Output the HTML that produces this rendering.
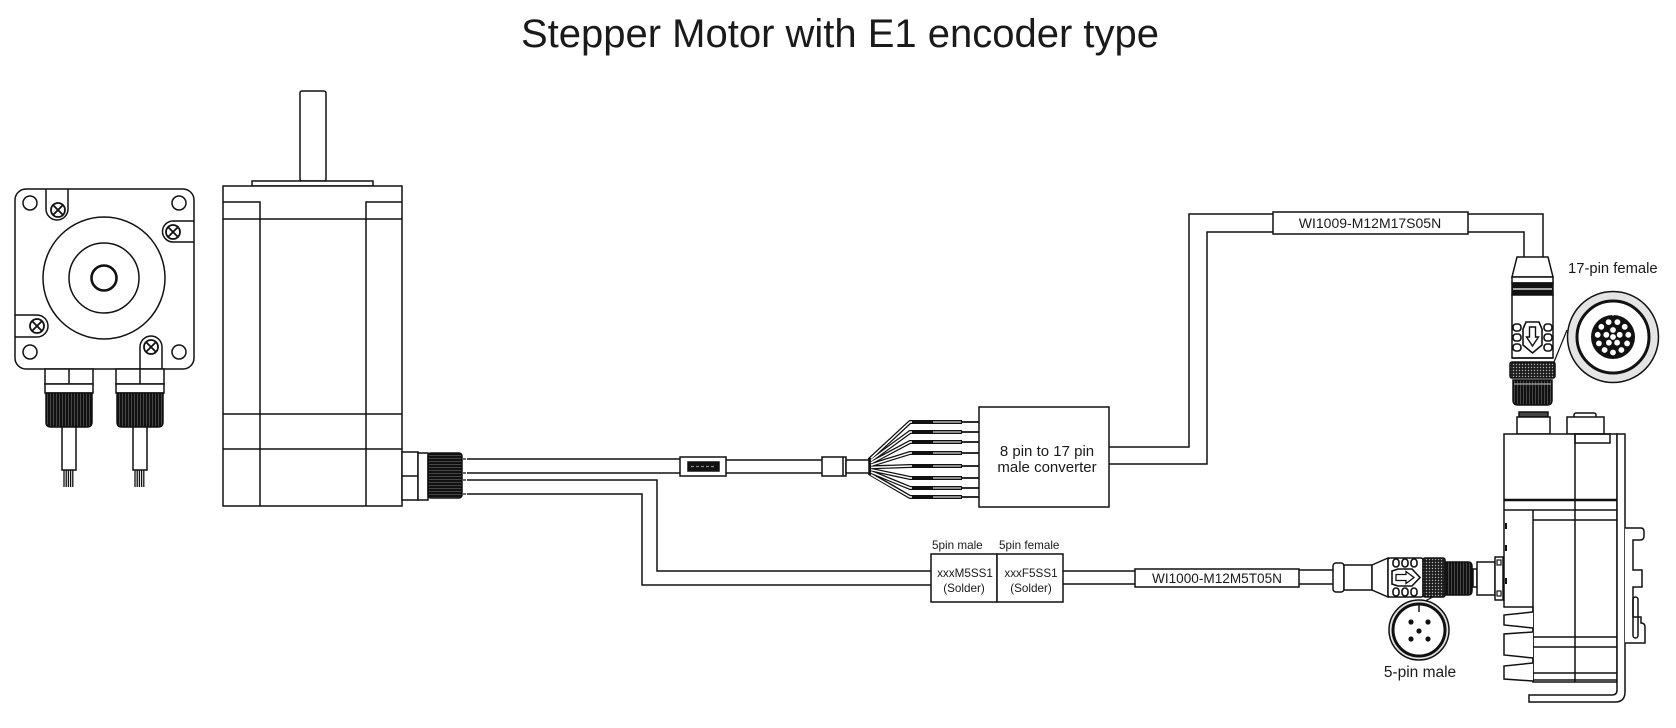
<!DOCTYPE html>
<html>
<head>
<meta charset="utf-8">
<style>
html,body{margin:0;padding:0;background:#fff;}
body{width:1676px;height:728px;overflow:hidden;}
svg{display:block;}
text{font-family:"Liberation Sans",Arial,sans-serif;fill:#1a1a1a;stroke:none;}
</style>
</head>
<body>
<svg width="1676" height="728" viewBox="0 0 1676 728" xmlns="http://www.w3.org/2000/svg">
<defs>
<pattern id="dots" width="3" height="3" patternUnits="userSpaceOnUse"><rect width="3" height="3" fill="#1c1c1c"/><circle cx="1.5" cy="1.5" r="0.7" fill="#b0b0b0"/></pattern>
<pattern id="vk" width="3" height="10" patternUnits="userSpaceOnUse"><rect width="3" height="10" fill="#111"/><rect x="2" width="0.6" height="10" fill="#6a6a6a"/></pattern>
<pattern id="hk" width="10" height="3" patternUnits="userSpaceOnUse"><rect width="10" height="3" fill="#111"/><rect y="2" width="10" height="0.6" fill="#6a6a6a"/></pattern>
</defs>

<!-- Title -->
<text x="521" y="47" font-size="40" textLength="638" lengthAdjust="spacingAndGlyphs">Stepper Motor with E1 encoder type</text>

<g fill="none" stroke="#111" stroke-width="1.5">

<!-- ===== Front view motor ===== -->
<rect x="15" y="189" width="179" height="180" rx="11" fill="#fff"/>
<circle cx="30" cy="203" r="7"/>
<circle cx="179" cy="203" r="7"/>
<circle cx="30" cy="352" r="7"/>
<circle cx="179" cy="352" r="7"/>
<path d="M46,189 V209 A11,11 0 0 0 68,209 V189"/>
<path d="M194,221 H173 A10.5,10.5 0 0 0 173,242 H194"/>
<path d="M15,315 H37 A11,11 0 0 1 37,337 H15"/>
<path d="M140,369 V347 A11,11 0 0 1 162,347 V369"/>
<g stroke-width="1.8">
<circle cx="58" cy="210" r="7"/><path d="M53.5,205.5 L62.5,214.5 M62.5,205.5 L53.5,214.5"/>
<circle cx="173" cy="232" r="7"/><path d="M168.5,227.5 L177.5,236.5 M177.5,227.5 L168.5,236.5"/>
<circle cx="37" cy="326" r="7"/><path d="M32.5,321.5 L41.5,330.5 M41.5,321.5 L32.5,330.5"/>
<circle cx="151" cy="347" r="7"/><path d="M146.5,342.5 L155.5,351.5 M155.5,342.5 L146.5,351.5"/>
</g>
<circle cx="104" cy="278" r="61"/>
<circle cx="104" cy="278" r="35"/>
<circle cx="104" cy="278" r="12.5" stroke-width="2.6"/>

<!-- front-view connectors -->
<rect x="45" y="369" width="48" height="15" fill="#fff"/>
<path d="M69,369 V384"/>
<rect x="45" y="384" width="48" height="9" fill="#fff"/>
<path d="M46,393 H92 V422 Q92,427 87,427 H51 Q46,427 46,422 Z" fill="url(#vk)" stroke="#111"/>
<rect x="62" y="427" width="14" height="43" fill="#fff"/>
<path d="M64,470 V487 M66.2,470 V487 M68.4,470 V487 M70.6,470 V487 M72.8,470 V487" stroke-width="1.3"/>

<rect x="116" y="369" width="48" height="15" fill="#fff"/>
<path d="M140,369 V384"/>
<rect x="116" y="384" width="48" height="9" fill="#fff"/>
<path d="M117,393 H163 V422 Q163,427 158,427 H122 Q117,427 117,422 Z" fill="url(#vk)" stroke="#111"/>
<rect x="133" y="427" width="14" height="43" fill="#fff"/>
<path d="M135,470 V487 M137.2,470 V487 M139.4,470 V487 M141.6,470 V487 M143.8,470 V487" stroke-width="1.3"/>

<!-- ===== Side view motor ===== -->
<rect x="300" y="91" width="26" height="90" rx="2" fill="#fff"/>
<rect x="252" y="181" width="121" height="5" fill="#fff"/>
<rect x="223" y="186" width="179" height="320" fill="#fff"/>
<path d="M223,202 H260 V506 M402,202 H366 V506"/>
<path d="M223,219 H402 M223,414 H402 M223,449 H402"/>
<rect x="402" y="452" width="16" height="48" fill="#fff"/>
<path d="M402,476 H418"/>
<rect x="418" y="453" width="10" height="47" fill="#fff"/>
<rect x="428" y="453" width="34" height="45" rx="3" fill="url(#hk)"/>
<path d="M463,459 H466 M463,473 H466 M463,480 H466 M463,494 H466" stroke-width="1.2"/>

<!-- main cable to converter -->
<path d="M467,459 H680 M467,473 H680"/>
<rect x="680" y="457" width="46" height="19" fill="#fff"/>
<rect x="688" y="462" width="31" height="9" fill="#111"/>
<path d="M691,466.5 H716" stroke="#888" stroke-width="1.2" stroke-dasharray="3,2"/>
<path d="M726,460 H822 M726,473 H822"/>
<rect x="822" y="457" width="24" height="19" fill="#fff"/>
<path d="M843,457 V476"/>
<rect x="846" y="460" width="23" height="13" fill="#fff"/>

<!-- fan wires -->
<g stroke-linecap="butt">
<path d="M869,460 L910,422 H962" stroke-width="4"/>
<path d="M869,461.9 L910,432 H962" stroke-width="4"/>
<path d="M869,463.7 L910,442 H962" stroke-width="4"/>
<path d="M869,465.6 L910,453 H962" stroke-width="4"/>
<path d="M869,467.4 L910,466 H962" stroke-width="4"/>
<path d="M869,469.3 L910,478 H962" stroke-width="4"/>
<path d="M869,471.1 L910,488 H962" stroke-width="4"/>
<path d="M869,473 L910,497 H962" stroke-width="4"/>
</g>
<g stroke="#fff" stroke-width="1.5">
<path d="M871,458.2 L910,422 H912"/>
<path d="M871,460.5 L910,432 H912"/>
<path d="M871,462.8 L910,442 H912"/>
<path d="M871,465.1 L910,453 H912"/>
<path d="M871,467.4 L910,466 H912"/>
<path d="M871,469.7 L910,478 H912"/>
<path d="M871,472 L910,488 H912"/>
<path d="M871,474.6 L910,497 H912"/>
</g>
<g stroke="#a0a0a0" stroke-width="1.8">
<path d="M933,422 H961 M933,432 H961 M933,442 H961 M933,453 H961 M933,466 H961 M933,478 H961 M933,488 H961 M933,497 H961"/>
</g>
<g stroke-width="1.8">
<path d="M962,422 H979 M962,432 H979 M962,442 H979 M962,453 H979 M962,466 H979 M962,478 H979 M962,488 H979 M962,497 H979"/>
</g>

<!-- converter -->
<rect x="979" y="407" width="130" height="100" fill="#fff"/>

<!-- upper cable to 17-pin -->
<path d="M1109,447 H1189 V214 H1273"/>
<path d="M1109,464 H1207 V232 H1273"/>
<rect x="1273" y="212" width="195" height="22" fill="#fff"/>
<path d="M1468,214 H1543 V257"/>
<path d="M1468,232 H1524 V257"/>

<!-- 17-pin cable connector (vertical) -->
<path d="M1517,257 L1548,257 L1553,277 L1512,277 Z" fill="#fff"/>
<rect x="1512" y="277" width="41" height="6" fill="#fff"/>
<rect x="1512" y="283" width="41" height="12" fill="#111"/>
<path d="M1513,289 H1552" stroke="#fff" stroke-width="1.2"/>
<rect x="1512" y="295" width="41" height="63" fill="#fff"/>
<g stroke-width="1.6">
<rect x="1513" y="324" width="8" height="7" rx="3"/>
<rect x="1513" y="334" width="8" height="7" rx="3"/>
<rect x="1513" y="344" width="8" height="7" rx="3"/>
<rect x="1544" y="324" width="8" height="7" rx="3"/>
<rect x="1544" y="334" width="8" height="7" rx="3"/>
<rect x="1544" y="344" width="8" height="7" rx="3"/>
</g>
<path d="M1526,322 H1539 L1542,329 V345 L1532.5,353 L1523,345 V329 Z" stroke-width="1.6"/>
<path d="M1529.5,327 H1535.5 V337 H1538.5 L1532.5,346 L1526.5,337 H1529.5 Z" stroke-width="1.4"/>
<path d="M1512,358 H1553"/>
<rect x="1510" y="362" width="45" height="16" rx="2" fill="url(#dots)"/>
<path d="M1513,380 H1552 V400 Q1552,405 1547,405 H1518 Q1513,405 1513,400 Z" fill="url(#vk)"/>
<path d="M1514,384 H1551" stroke="#ccc" stroke-width="1"/>

<!-- 17-pin face circle -->
<path d="M1567,330 L1554,362" stroke-width="1.2"/>
<circle cx="1613" cy="337" r="45.5" fill="#e4e4e4" stroke-width="1.5"/>
<circle cx="1613" cy="337" r="36" fill="#fff" stroke-width="3"/>
<circle cx="1613" cy="337" r="22" fill="#111" stroke="none"/>
<g fill="#fff" stroke="none">
<circle cx="1617.4" cy="322.1" r="2.9"/>
<circle cx="1624.7" cy="326.8" r="2.9"/>
<circle cx="1628.3" cy="334.8" r="2.9"/>
<circle cx="1627.1" cy="343.4" r="2.9"/>
<circle cx="1621.4" cy="350" r="2.9"/>
<circle cx="1613" cy="352.5" r="2.9"/>
<circle cx="1604.6" cy="350" r="2.9"/>
<circle cx="1598.9" cy="343.4" r="2.9"/>
<circle cx="1597.7" cy="334.8" r="2.9"/>
<circle cx="1601.3" cy="326.8" r="2.9"/>
<circle cx="1608.6" cy="322.1" r="2.9"/>
<circle cx="1613" cy="330" r="2.9"/>
<circle cx="1619.7" cy="334.8" r="2.9"/>
<circle cx="1617.1" cy="342.7" r="2.9"/>
<circle cx="1608.9" cy="342.7" r="2.9"/>
<circle cx="1606.3" cy="334.8" r="2.9"/>
<circle cx="1613" cy="337" r="2.9"/>
</g>
<path d="M1613,306 V316" stroke="#fff" stroke-width="1"/>

<!-- ===== Drive ===== -->
<rect x="1519" y="412" width="29" height="5" fill="#444"/>
<rect x="1517" y="417" width="33" height="17" fill="#fff"/>
<rect x="1574" y="413" width="22" height="5" rx="2" fill="#fff"/>
<rect x="1567" y="417" width="37" height="17" fill="#fff"/>
<path d="M1504,434 H1617 V682 H1533 V607 H1504 Z" fill="#fff"/>
<path d="M1575,434 V682"/>
<rect x="1575" y="434" width="35" height="9"/>
<path d="M1504,500 H1617" stroke-width="2.4"/>
<path d="M1504,510 H1617 M1533,520 H1617 M1533,510 V682"/>
<path d="M1533,637 H1617 M1533,647 H1617 M1533,673 H1617 M1533,680 H1617"/>
<path d="M1506,523 V529 M1506,545 V551 M1506,578 V584" stroke-width="2"/>
<path d="M1533,612 L1504,615 V625 L1533,628" fill="#fff"/>
<path d="M1533,632 L1504,634 V655 L1533,658" fill="#fff"/>
<path d="M1533,663 L1504,666 V679 L1533,681" fill="#fff"/>
<path d="M1617,434 H1625 V692 Q1625,702 1615,702 H1529 V695 H1612 Q1617,695 1617,690 Z" fill="#fff"/>
<path d="M1625,528 H1641 Q1644,528 1644,532 V536 Q1644,540 1640,540 H1633 V570 H1642 V587 H1633 V617 H1641 V623 Q1645,623 1645,627 V643 H1625" fill="#fff"/>
<rect x="1633" y="597" width="5" height="41" rx="2.5"/>

<!-- lower cable from motor -->
<path d="M467,480 H657 V571 H931"/>
<path d="M467,494 H642 V585 H931"/>
<rect x="931" y="554" width="66" height="48" fill="#fff"/>
<rect x="997" y="554" width="66" height="48" fill="#fff"/>
<path d="M1063,571 H1135 M1063,584 H1135"/>
<rect x="1135" y="569" width="164" height="18" fill="#fff"/>
<path d="M1299,570 H1333 M1299,584 H1333"/>

<!-- 5-pin cable connector (horizontal) -->
<rect x="1333" y="563" width="11" height="29" rx="3" fill="#fff"/>
<rect x="1344" y="565" width="28" height="25" fill="#fff"/>
<path d="M1372,565 L1388,558 V597 L1372,590 Z" fill="#fff"/>
<rect x="1388" y="558" width="35" height="39" rx="2" fill="#fff"/>
<g stroke-width="1.6">
<rect x="1393" y="559" width="6" height="8" rx="3"/>
<rect x="1402" y="559" width="6" height="8" rx="3"/>
<rect x="1411" y="559" width="6" height="8" rx="3"/>
<rect x="1393" y="588" width="6" height="8" rx="3"/>
<rect x="1402" y="588" width="6" height="8" rx="3"/>
<rect x="1411" y="588" width="6" height="8" rx="3"/>
</g>
<path d="M1392,571 L1398,569 H1412 L1420,577.5 L1412,586 H1398 L1392,584 Z" stroke-width="1.6"/>
<path d="M1396,574.5 H1406 V571.5 L1414,577.5 L1406,583.5 V580.5 H1396 Z" stroke-width="1.3"/>
<rect x="1423" y="558" width="22" height="39" rx="2" fill="url(#dots)"/>
<path d="M1445,562 H1468 Q1472,562 1472,566 V591 Q1472,595 1468,595 H1445 Z" fill="url(#vk)"/>
<rect x="1473" y="569" width="4" height="18" fill="#fff"/>
<rect x="1477" y="562" width="18" height="33" fill="#fff"/>
<rect x="1495" y="557" width="8" height="43" fill="#fff"/>
<rect x="1497" y="560" width="4" height="5" stroke-width="1.2"/>
<rect x="1497" y="591" width="4" height="5" stroke-width="1.2"/>

<!-- 5-pin face circle -->
<path d="M1425,601 L1433,597" stroke-width="1.2"/>
<circle cx="1419" cy="630" r="30" fill="#e4e4e4" stroke-width="1.5"/>
<circle cx="1419" cy="630" r="26" fill="#fff" stroke-width="3"/>
<path d="M1419,605 V612" stroke-width="1.5"/>
<g fill="#111" stroke="none">
<circle cx="1411" cy="622" r="2.6"/>
<circle cx="1428" cy="622" r="2.6"/>
<circle cx="1411" cy="639" r="2.6"/>
<circle cx="1428" cy="639" r="2.6"/>
<circle cx="1419" cy="631" r="2.6"/>
</g>
</g>

<!-- Text labels -->
<text x="1047" y="456" font-size="15" text-anchor="middle">8 pin to 17 pin</text>
<text x="1047" y="472" font-size="15" text-anchor="middle">male converter</text>
<text x="1370" y="228" font-size="14" text-anchor="middle">WI1009-M12M17S05N</text>
<text x="1568" y="273" font-size="14.8">17-pin female</text>
<text x="932" y="549" font-size="11.7">5pin male</text>
<text x="999" y="549" font-size="11.7">5pin female</text>
<text x="965" y="577" font-size="11.7" text-anchor="middle">xxxM5SS1</text>
<text x="964" y="592" font-size="11.7" text-anchor="middle">(Solder)</text>
<text x="1031" y="577" font-size="11.7" text-anchor="middle">xxxF5SS1</text>
<text x="1031" y="592" font-size="11.7" text-anchor="middle">(Solder)</text>
<text x="1217" y="583" font-size="13.6" text-anchor="middle">WI1000-M12M5T05N</text>
<text x="1420" y="677" font-size="15.5" text-anchor="middle">5-pin male</text>
</svg>
</body>
</html>
